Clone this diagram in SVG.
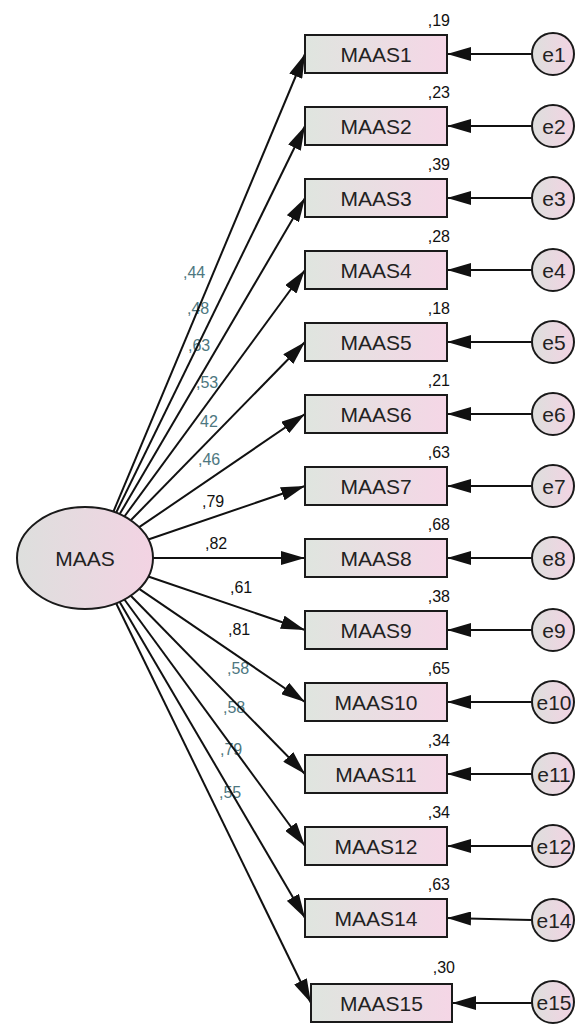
<svg xmlns="http://www.w3.org/2000/svg" width="580" height="1024" viewBox="0 0 580 1024">
<defs>
<linearGradient id="gr" x1="0" y1="0" x2="1" y2="0">
<stop offset="0" stop-color="#dfe5df"/>
<stop offset="1" stop-color="#f5d6e6"/>
</linearGradient>
<linearGradient id="ge" x1="0" y1="0" x2="1" y2="0">
<stop offset="0" stop-color="#dddfdd"/>
<stop offset="1" stop-color="#f3d3e3"/>
</linearGradient>
<marker id="ah" viewBox="0 0 24 14" refX="24" refY="7" markerWidth="24" markerHeight="14" orient="auto" markerUnits="userSpaceOnUse">
<path d="M0,0 L24,7 L0,14 z" fill="#111"/>
</marker>
</defs>
<style>
.box{fill:url(#gr);stroke:#1a1a1a;stroke-width:2}
.err{fill:url(#ge);stroke:#1a1a1a;stroke-width:2}
.lat{fill:url(#ge);stroke:#1a1a1a;stroke-width:2}
.lbl{font-family:"Liberation Sans",Arial,sans-serif;font-size:21px;fill:#222;text-anchor:middle}
.r2{font-family:"Liberation Sans",Arial,sans-serif;font-size:16px;fill:#111;text-anchor:end}
.cf{font-family:"Liberation Sans",Arial,sans-serif;font-size:16px;fill:#4d7780}
.cb{font-family:"Liberation Sans",Arial,sans-serif;font-size:16px;fill:#111}
.ln{stroke:#111;stroke-width:2;fill:none;marker-end:url(#ah)}
</style>
<rect width="580" height="1024" fill="#ffffff"/>

<g id="coef-labels">
<text class="cf" x="183" y="278">,44</text>
<text class="cf" x="187" y="314">,48</text>
<text class="cf" x="188" y="351">,63</text>
<text class="cf" x="196" y="388">,53</text>
<text class="cf" x="200" y="427">42</text>
<text class="cf" x="198" y="465">,46</text>
<text class="cb" x="202" y="507">,79</text>
<text class="cb" x="205" y="549">,82</text>
<text class="cb" x="230" y="593">,61</text>
<text class="cb" x="228" y="635">,81</text>
<text class="cf" x="227" y="674">,58</text>
<text class="cf" x="223" y="713">,58</text>
<text class="cf" x="220" y="755">,79</text>
<text class="cf" x="219" y="798">,55</text>
</g>

<g id="connectors">
<line class="ln" x1="113.4" y1="511.7" x2="305" y2="54"/>
<line class="ln" x1="116.1" y1="512.7" x2="305" y2="126"/>
<line class="ln" x1="119.7" y1="514.1" x2="305" y2="198"/>
<line class="ln" x1="124.4" y1="516.5" x2="305" y2="270"/>
<line class="ln" x1="130.8" y1="520.3" x2="305" y2="342"/>
<line class="ln" x1="139.2" y1="527.2" x2="305" y2="414"/>
<line class="ln" x1="148.3" y1="539.5" x2="305" y2="486"/>
<line class="ln" x1="153" y1="558" x2="305" y2="558"/>
<line class="ln" x1="148.3" y1="576.5" x2="305" y2="630"/>
<line class="ln" x1="139.2" y1="588.8" x2="305" y2="702"/>
<line class="ln" x1="130.8" y1="595.7" x2="305" y2="774"/>
<line class="ln" x1="124.4" y1="599.5" x2="305" y2="846"/>
<line class="ln" x1="119.7" y1="601.9" x2="305" y2="918"/>
<line class="ln" x1="116.1" y1="603.3" x2="311" y2="1003"/>
<line class="ln" x1="532" y1="54" x2="447" y2="54"/>
<line class="ln" x1="532" y1="126" x2="447" y2="126"/>
<line class="ln" x1="532" y1="198" x2="447" y2="198"/>
<line class="ln" x1="532" y1="270" x2="447" y2="270"/>
<line class="ln" x1="532" y1="342" x2="447" y2="342"/>
<line class="ln" x1="532" y1="414" x2="447" y2="414"/>
<line class="ln" x1="532" y1="486" x2="447" y2="486"/>
<line class="ln" x1="532" y1="558" x2="447" y2="558"/>
<line class="ln" x1="532" y1="630" x2="447" y2="630"/>
<line class="ln" x1="532" y1="702" x2="447" y2="702"/>
<line class="ln" x1="532" y1="774" x2="447" y2="774"/>
<line class="ln" x1="532" y1="846" x2="447" y2="846"/>
<line class="ln" x1="532" y1="920" x2="447" y2="918"/>
<line class="ln" x1="532" y1="1003" x2="452" y2="1003"/>
</g>

<g id="MAAS"><ellipse class="lat" cx="85" cy="558" rx="68" ry="51"/><text class="lbl" x="85" y="566">MAAS</text></g>

<g id="MAAS1"><rect class="box" x="305" y="35" width="142" height="38"/><text class="lbl" x="376" y="62">MAAS1</text><text class="r2" x="450" y="26">,19</text></g>
<g id="MAAS2"><rect class="box" x="305" y="107" width="142" height="38"/><text class="lbl" x="376" y="134">MAAS2</text><text class="r2" x="450" y="98">,23</text></g>
<g id="MAAS3"><rect class="box" x="305" y="179" width="142" height="38"/><text class="lbl" x="376" y="206">MAAS3</text><text class="r2" x="450" y="170">,39</text></g>
<g id="MAAS4"><rect class="box" x="305" y="251" width="142" height="38"/><text class="lbl" x="376" y="278">MAAS4</text><text class="r2" x="450" y="242">,28</text></g>
<g id="MAAS5"><rect class="box" x="305" y="323" width="142" height="38"/><text class="lbl" x="376" y="350">MAAS5</text><text class="r2" x="450" y="314">,18</text></g>
<g id="MAAS6"><rect class="box" x="305" y="395" width="142" height="38"/><text class="lbl" x="376" y="422">MAAS6</text><text class="r2" x="450" y="386">,21</text></g>
<g id="MAAS7"><rect class="box" x="305" y="467" width="142" height="38"/><text class="lbl" x="376" y="494">MAAS7</text><text class="r2" x="450" y="458">,63</text></g>
<g id="MAAS8"><rect class="box" x="305" y="539" width="142" height="38"/><text class="lbl" x="376" y="566">MAAS8</text><text class="r2" x="450" y="530">,68</text></g>
<g id="MAAS9"><rect class="box" x="305" y="611" width="142" height="38"/><text class="lbl" x="376" y="638">MAAS9</text><text class="r2" x="450" y="602">,38</text></g>
<g id="MAAS10"><rect class="box" x="305" y="683" width="142" height="38"/><text class="lbl" x="376" y="710">MAAS10</text><text class="r2" x="450" y="674">,65</text></g>
<g id="MAAS11"><rect class="box" x="305" y="755" width="142" height="38"/><text class="lbl" x="376" y="782">MAAS11</text><text class="r2" x="450" y="746">,34</text></g>
<g id="MAAS12"><rect class="box" x="305" y="827" width="142" height="38"/><text class="lbl" x="376" y="854">MAAS12</text><text class="r2" x="450" y="818">,34</text></g>
<g id="MAAS14"><rect class="box" x="305" y="899" width="142" height="38"/><text class="lbl" x="376" y="926">MAAS14</text><text class="r2" x="450" y="890">,63</text></g>
<g id="MAAS15"><rect class="box" x="311" y="984" width="141" height="38"/><text class="lbl" x="381.5" y="1011">MAAS15</text><text class="r2" x="455" y="973">,30</text></g>

<g id="e1"><circle class="err" cx="553" cy="54" r="21"/><text class="lbl" x="554" y="62">e1</text></g>
<g id="e2"><circle class="err" cx="553" cy="126" r="21"/><text class="lbl" x="554" y="134">e2</text></g>
<g id="e3"><circle class="err" cx="553" cy="198" r="21"/><text class="lbl" x="554" y="206">e3</text></g>
<g id="e4"><circle class="err" cx="553" cy="270" r="21"/><text class="lbl" x="554" y="278">e4</text></g>
<g id="e5"><circle class="err" cx="553" cy="342" r="21"/><text class="lbl" x="554" y="350">e5</text></g>
<g id="e6"><circle class="err" cx="553" cy="414" r="21"/><text class="lbl" x="554" y="422">e6</text></g>
<g id="e7"><circle class="err" cx="553" cy="486" r="21"/><text class="lbl" x="554" y="494">e7</text></g>
<g id="e8"><circle class="err" cx="553" cy="558" r="21"/><text class="lbl" x="554" y="566">e8</text></g>
<g id="e9"><circle class="err" cx="553" cy="630" r="21"/><text class="lbl" x="554" y="638">e9</text></g>
<g id="e10"><circle class="err" cx="553" cy="702" r="21"/><text class="lbl" x="554" y="710">e10</text></g>
<g id="e11"><circle class="err" cx="553" cy="774" r="21"/><text class="lbl" x="554" y="782">e11</text></g>
<g id="e12"><circle class="err" cx="553" cy="846" r="21"/><text class="lbl" x="554" y="854">e12</text></g>
<g id="e14"><circle class="err" cx="553" cy="920" r="21"/><text class="lbl" x="554" y="928">e14</text></g>
<g id="e15"><circle class="err" cx="553" cy="1002" r="21"/><text class="lbl" x="554" y="1010">e15</text></g>
</svg>
